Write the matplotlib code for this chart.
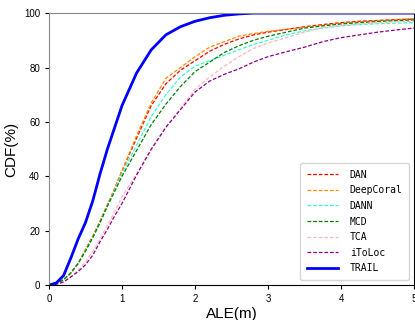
import numpy as np
import matplotlib.pyplot as plt

# ALE grid (m) and CDF values (%)
ale = [0, 0.1, 0.2, 0.3, 0.4, 0.5, 0.6, 0.7, 0.8, 0.9, 1.0, 1.2, 1.4, 1.6, 1.8,
       2.0, 2.2, 2.4, 2.6, 2.8, 3.0, 3.25, 3.5, 3.75, 4.0, 4.25, 4.5, 4.75, 5.0]

dan = [0, 0.5, 2, 4.5, 8, 13, 18, 23.5, 29.5, 35.5, 42, 54, 66, 74, 79,
       82.5, 86, 88.5, 90.5, 92, 93, 94, 95, 95.8, 96.5, 97, 97.3, 97.6, 97.8]
deepcoral = [0, 0.5, 2, 4.5, 8, 13, 18, 23.5, 29.5, 35.5, 42, 55, 67, 76, 80,
             84, 87.5, 89.5, 91.5, 92.5, 93.3, 94.1, 94.8, 95.5, 96.3, 96.8, 97.2, 97.6, 98]
dann = [0, 0.5, 2, 4.5, 8, 12.5, 17.5, 23, 29, 35, 41, 51.5, 62, 70, 76.5,
        80.5, 82.5, 84.5, 86.5, 88.5, 90, 92, 93.5, 94.5, 95.3, 95.8, 96.1, 96.3, 96.5]
mcd = [0, 0.5, 2, 4.5, 8, 12.5, 17.5, 23, 29, 34.5, 40, 49.5, 59, 66.5, 73,
       78.5, 82, 85.5, 88, 90, 91.5, 93, 94.5, 95.3, 96, 96.5, 96.9, 97.2, 97.5]
tca = [0, 0.3, 1, 3, 5.5, 8.5, 12.5, 17, 22, 27, 32.5, 41, 49.5, 58, 65,
       72, 76.5, 80.5, 84, 87, 89, 91, 93, 94.7, 95.5, 96, 96.5, 96.8, 97]
itoloc = [0, 0.3, 1.2, 3, 5, 7.5, 11, 16, 20.5, 25.5, 30, 40.5, 50, 58, 64.5,
          71, 75, 77.5, 79.5, 82, 84, 85.8, 87.5, 89.5, 91, 92, 93, 93.8, 94.5]
trail = [0, 0.8, 3.5, 10, 17, 23, 31, 41, 50, 58, 66, 78, 86.5, 92, 95,
         97, 98.3, 99.2, 99.7, 100, 100, 100, 100, 100, 100, 100, 100, 100, 100]

names = ['DAN', 'DeepCoral', 'DANN', 'MCD', 'TCA', 'iToLoc']
series = [dan, deepcoral, dann, mcd, tca, itoloc]
colors = ['red', 'darkorange', '#33ffcc', 'green', 'lightpink', 'darkmagenta']

fig = plt.figure(figsize=(4.15, 3.2), dpi=100)
ax = fig.add_axes([0.118, 0.109, 0.88, 0.85])

for n, s, c in zip(names, series, colors):
    ax.plot(ale, s, color=c, lw=0.9, dashes=(3, 1.5), label=n)
ax.plot(ale, trail, color='blue', lw=2, label='TRAIL')

ax.set_xlim(0, 5)
ax.set_ylim(0, 100)
ax.set_xticks([0, 1, 2, 3, 4, 5])
ax.set_yticks([0, 20, 40, 60, 80, 100])
ax.tick_params(labelsize=7, length=3, width=0.8)
for lab in ax.get_xticklabels() + ax.get_yticklabels():
    lab.set_family('Liberation Sans')
for sp in ['left', 'top']:
    ax.spines[sp].set_color('#888888')
ax.set_xlabel('ALE(m)', fontsize=11, family='Liberation Sans', labelpad=2)
ax.set_ylabel('CDF(%)', fontsize=11, family='Liberation Sans', labelpad=4)

leg = ax.legend(loc='lower right', prop={'family': 'DejaVu Sans Mono', 'size': 7},
                handlelength=3.2, handletextpad=1.2, labelspacing=0.58, borderpad=0.7)

fig.savefig('out.png', dpi=100)
